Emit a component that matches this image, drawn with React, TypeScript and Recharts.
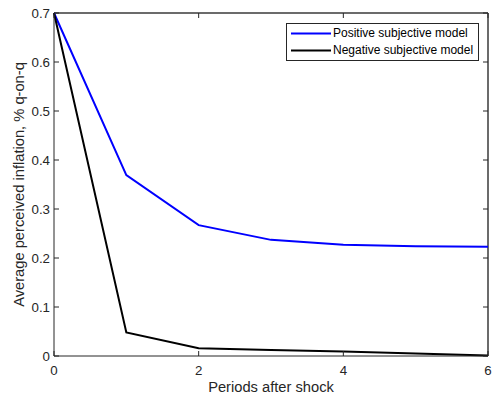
import { LineChart, Line, XAxis, YAxis, Legend, ReferenceLine } from "recharts"

// values
const periods = [0, 1, 2, 3, 4, 5, 6]
const positiveModel = [0.7, 0.369, 0.267, 0.237, 0.227, 0.224, 0.223]
const negativeModel = [0.7, 0.048, 0.016, 0.012, 0.009, 0.005, 0.001]
const seriesNames = ["Positive subjective model", "Negative subjective model"]
const xTicks = [0, 2, 4, 6]
const yTicks = [0, 0.1, 0.2, 0.3, 0.4, 0.5, 0.6, 0.7]

const AXIS = "#262626"
const FONT = "'Liberation Sans', Arial, Helvetica, sans-serif"
const TICK_LEN = 5

const W = 492
const H = 395
const M = { top: 13, right: 4, bottom: 0, left: 0 }
const Y_AXIS_W = 54
const X_AXIS_H = 39
// edges of the plot box, used to mirror ticks on top/right like MATLAB does
const PLOT_TOP = M.top
const PLOT_RIGHT = W - M.right

const data = periods.map((p, i) => ({
  period: p,
  positive: positiveModel[i],
  negative: negativeModel[i],
}))

// MATLAB-style ticks: line points inward, label sits outside
const BottomTick = (props: any) => {
  const { x, y, payload } = props
  return (
    <g>
      <line x1={x} x2={x} y1={y} y2={y - TICK_LEN} stroke={AXIS} />
      <line x1={x} x2={x} y1={PLOT_TOP} y2={PLOT_TOP + TICK_LEN} stroke={AXIS} />
      <text x={x} y={y + 19} textAnchor="middle" fill={AXIS} fontSize={13.3} fontFamily={FONT}>
        {payload.value}
      </text>
    </g>
  )
}

const LeftTick = (props: any) => {
  const { x, y, payload } = props
  return (
    <g>
      <line x1={x} x2={x + TICK_LEN} y1={y} y2={y} stroke={AXIS} />
      <line x1={PLOT_RIGHT} x2={PLOT_RIGHT - TICK_LEN} y1={y} y2={y} stroke={AXIS} />
      <text x={x - 4} y={y + 5} textAnchor="end" fill={AXIS} fontSize={13.3} fontFamily={FONT}>
        {payload.value}
      </text>
    </g>
  )
}

const LegendBox = (props: any) => {
  const items = [...(props.payload || [])]
    .filter((a: any) => seriesNames.includes(a.value))
    .sort((a: any, b: any) => seriesNames.indexOf(a.value) - seriesNames.indexOf(b.value))
  return (
    <div
      style={{
        border: `1px solid ${AXIS}`,
        background: "#fff",
        padding: "1px 5px 1px 2px",
        fontFamily: FONT,
        fontSize: 12,
        color: "#000",
        lineHeight: "17px",
        whiteSpace: "nowrap",
        display: "inline-block",
      }}
    >
      {items.map((entry: any) => (
        <div key={entry.value} style={{ display: "flex", alignItems: "center" }}>
          <svg width={44} height={17}>
            <line x1={2} x2={42} y1={8.5} y2={8.5} stroke={entry.color} strokeWidth={2} />
          </svg>
          <span>{entry.value}</span>
        </div>
      ))}
    </div>
  )
}

export default function App() {
  return (
    <div style={{ position: "absolute", left: 0, top: 0, background: "#fff" }}>
      <LineChart width={W} height={H} data={data} margin={M}>
        <XAxis
          dataKey="period"
          type="number"
          domain={[0, 6]}
          ticks={xTicks}
          height={X_AXIS_H}
          stroke={AXIS}
          tickLine={false}
          tickSize={0}
          tickMargin={0}
          tick={<BottomTick />}
          label={{
            value: "Periods after shock",
            position: "insideBottom",
            offset: 3,
            fill: AXIS,
            fontSize: 14.7,
            fontFamily: FONT,
          }}
        />
        <YAxis
          type="number"
          domain={[0, 0.7]}
          ticks={yTicks}
          width={Y_AXIS_W}
          stroke={AXIS}
          tickLine={false}
          tickSize={0}
          tickMargin={0}
          tick={<LeftTick />}
          label={{
            value: "Average perceived inflation, % q-on-q",
            angle: -90,
            position: "center",
            dx: -8,
            fill: AXIS,
            fontSize: 14.7,
            fontFamily: FONT,
          }}
        />
        {/* top and right edges of the axes box */}
        <ReferenceLine y={0.7} stroke="#3a3a3a" strokeWidth={1.5} />
        <ReferenceLine x={6} stroke="#3a3a3a" strokeWidth={1.5} />
        <Legend
          layout="horizontal"
          verticalAlign="middle"
          align="center"
          content={<LegendBox />}
          wrapperStyle={{ top: 23, left: 286, width: "auto" }}
        />
        <Line
          dataKey="positive"
          name={seriesNames[0]}
          stroke="#0000ff"
          strokeWidth={2}
          dot={false}
          isAnimationActive={false}
        />
        <Line
          dataKey="negative"
          name={seriesNames[1]}
          stroke="#000000"
          strokeWidth={2}
          dot={false}
          isAnimationActive={false}
        />
      </LineChart>
    </div>
  )
}
